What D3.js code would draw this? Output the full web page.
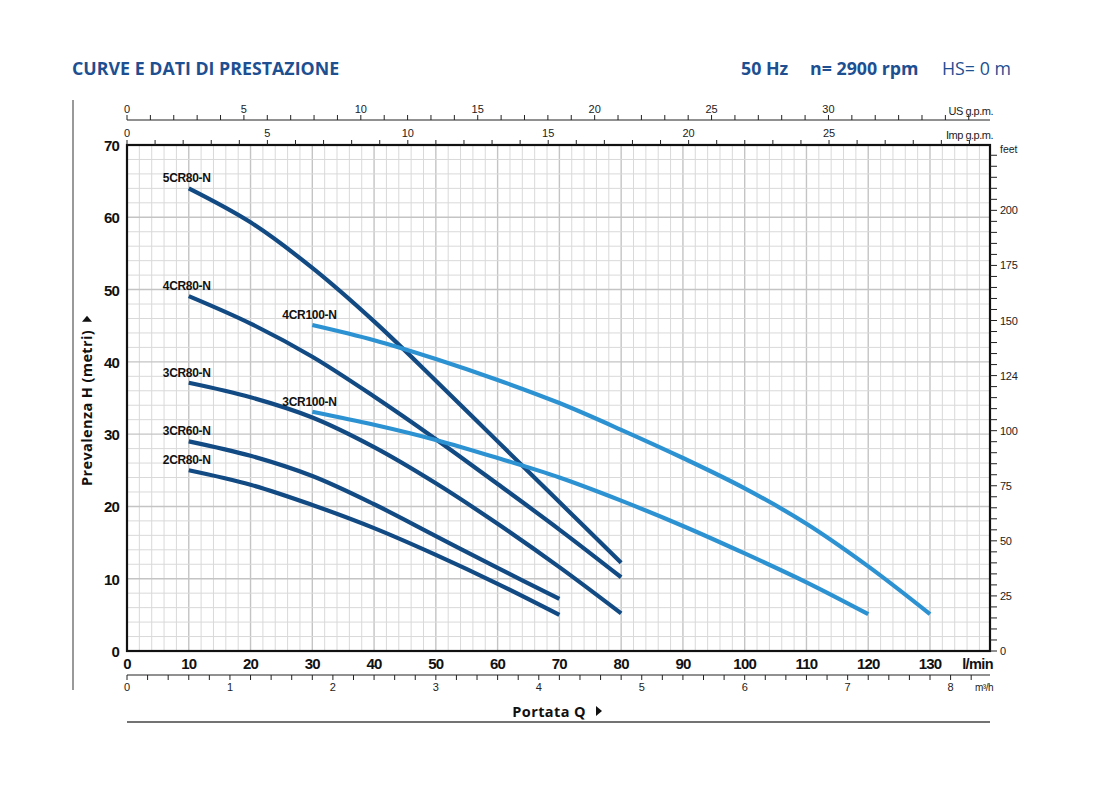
<!DOCTYPE html>
<html><head><meta charset="utf-8">
<script src="https://cdn.jsdelivr.net/npm/d3@7"></script>
<style>
body{margin:0;background:#fff;}
svg{display:block;}
</style></head>
<body>
<svg id="c" width="1100" height="800"></svg>
<script>
// ---------- DATA ----------
const flowTicks = [0,10,20,30,40,50,60,70,80,90,100,110,120,130];
const headTicks = [0,10,20,30,40,50,60,70];
const feetTickValues = [0,25,50,75,100,125,150,175,200];
const feetTickLabels = ["0","25","50","75","100","124","150","175","200"];
const usGpmLabels = [0,5,10,15,20,25,30];
const impGpmLabels = [0,5,10,15,20,25];
const m3hLabels = [0,1,2,3,4,5,6,7,8];

const pumpNames = ["5CR80-N","4CR80-N","3CR80-N","3CR60-N","2CR80-N","4CR100-N","3CR100-N"];
const q5CR80 = [10,20,30,40,50,60,70,80];
const h5CR80 = [64,59.3,53,45.6,37.4,29,20.6,12.2];
const q4CR80 = [10,20,30,40,50,60,70,80];
const h4CR80 = [49.1,45.3,40.7,35.2,29.3,23.1,16.8,10.2];
const q3CR80 = [10,20,30,40,50,60,70,80];
const h3CR80 = [37.1,35.1,32.3,28.2,23.2,17.6,11.6,5.2];
const q3CR60 = [10,20,30,40,50,60,70];
const h3CR60 = [29,27,24.2,20.3,15.9,11.5,7.2];
const q2CR80 = [10,20,30,40,50,60,70];
const h2CR80 = [25,23,20.2,17,13.3,9.3,5.0];
const q4CR100 = [30,40,50,60,70,80,90,100,110,120,130];
const h4CR100 = [45.1,43,40.4,37.5,34.3,30.6,26.7,22.5,17.6,11.7,5.1];
const q3CR100 = [30,40,50,60,70,80,90,100,110,120];
const h3CR100 = [33.1,31.3,29.2,26.7,24,20.8,17.3,13.5,9.5,5.1];

const seriesQ = [q5CR80,q4CR80,q3CR80,q3CR60,q2CR80,q4CR100,q3CR100];
const seriesH = [h5CR80,h4CR80,h3CR80,h3CR60,h2CR80,h4CR100,h3CR100];
const seriesKind = ["dark","dark","dark","dark","dark","light","light"];

// ---------- LAYOUT ----------
const svg = d3.select("#c");
const L = 127, R = 990, T = 145, B = 651;
const x = d3.scaleLinear().domain([0,130]).range([L, 930]);
const y = d3.scaleLinear().domain([0,70]).range([B, T]);
const qMax = x.invert(R);
const feet = d3.scaleLinear().domain([0, 70/0.3048]).range([B, T]);
const usG = d3.scaleLinear().domain([0,1]).range([x(0), x(3.78541)]);
const impG = d3.scaleLinear().domain([0,1]).range([x(0), x(4.54609)]);
const m3h = d3.scaleLinear().domain([0,1]).range([x(0), x(1000/60)]);

const navy = "#1d4f91";
const dark = "#124a84";
const light = "#2c92d2";
const sans = "'Liberation Sans', Arial, sans-serif";
const title = "'Open Sans', 'Noto Sans', sans-serif";

// titles
function ttl(xp, txt, w){
  svg.append("text").attr("x",xp).attr("y",75).attr("font-family",title).attr("font-weight",w)
    .attr("font-size",17.8).attr("fill",navy).attr("letter-spacing",0).text(txt);
}
ttl(72,"CURVE E DATI DI PRESTAZIONE",700);
ttl(741,"50 Hz",700);
ttl(810,"n= 2900 rpm",700);
ttl(942,"HS= 0 m",400);

// decorative left line
svg.append("line").attr("x1",73).attr("x2",73).attr("y1",100).attr("y2",690)
  .attr("stroke","#777").attr("stroke-width",1.5);

// grid
const g = svg.append("g");
const vGrid = d3.range(2, qMax, 2);
g.selectAll(".vg").data(vGrid).join("line")
  .attr("x1",d=>x(d)).attr("x2",d=>x(d)).attr("y1",T).attr("y2",B)
  .attr("stroke",d=>d%10===0?"#c4c4c4":"#d9d9d9").attr("stroke-width",d=>d%10===0?1.4:1);
const hGrid = d3.range(2, 70, 2);
g.selectAll(".hg").data(hGrid).join("line")
  .attr("x1",L).attr("x2",R).attr("y1",d=>y(d)).attr("y2",d=>y(d))
  .attr("stroke",d=>d%10===0?"#c4c4c4":"#d9d9d9").attr("stroke-width",d=>d%10===0?1.4:1);

// frame
svg.append("rect").attr("x",L).attr("y",T).attr("width",R-L).attr("height",B-T)
  .attr("fill","none").attr("stroke","#111").attr("stroke-width",2.2);

// left axis labels
svg.selectAll(".yl").data(headTicks).join("text")
  .attr("x",L-8).attr("y",d=>y(d)+6).attr("text-anchor","end")
  .attr("font-family",sans).attr("font-weight",700).attr("font-size",15).attr("letter-spacing",-0.8)
  .attr("fill","#111").text(d=>d);

// bottom l/min labels
svg.selectAll(".xl").data(flowTicks).join("text")
  .attr("x",d=>x(d)).attr("y",B+18).attr("text-anchor","middle")
  .attr("font-family",sans).attr("font-weight",700).attr("font-size",15).attr("letter-spacing",-0.8)
  .attr("fill","#111").text(d=>d);
svg.append("text").attr("x",993).attr("y",B+18).attr("text-anchor","end")
  .attr("font-family",sans).attr("font-weight",700).attr("font-size",14.5).attr("letter-spacing",-0.6)
  .attr("fill","#111").text("l/min");

// m3/h axis
const mY = 675;
svg.append("line").attr("x1",L).attr("x2",R).attr("y1",mY).attr("y2",mY).attr("stroke","#222").attr("stroke-width",1);
const mTicks = d3.range(0, m3h.invert(R), 0.2).map(v=>Math.round(v*10)/10);
svg.selectAll(".mt").data(mTicks).join("line")
  .attr("x1",d=>m3h(d)).attr("x2",d=>m3h(d)).attr("y1",mY).attr("y2",d=>mY+5)
  .attr("stroke","#222").attr("stroke-width",1);
svg.selectAll(".ml").data(m3hLabels).join("text")
  .attr("x",d=>m3h(d)).attr("y",mY+16).attr("text-anchor","middle")
  .attr("font-family",sans).attr("font-size",11).attr("fill","#222").text(d=>d);
svg.append("text").attr("x",993).attr("y",mY+16).attr("text-anchor","end")
  .attr("font-family",sans).attr("font-size",10).attr("letter-spacing",-0.5).attr("fill","#222").text("m³/h");

// Portata label
svg.append("text").attr("x",586).attr("y",717).attr("text-anchor","end")
  .attr("font-family",title).attr("font-weight",700).attr("font-size",14.5).attr("letter-spacing",0.4)
  .attr("fill","#111").text("Portata Q");
svg.append("path").attr("d","M596,706 L596,716 L602,711 Z").attr("fill","#111");
svg.append("line").attr("x1",L).attr("x2",R).attr("y1",722).attr("y2",722).attr("stroke","#444").attr("stroke-width",1.5);

// Y label
const yl = svg.append("g").attr("transform","translate(92,486) rotate(-90)");
const ylt = yl.append("text").attr("x",0).attr("y",0).attr("text-anchor","start")
  .attr("font-family",title).attr("font-weight",700).attr("font-size",14.5).attr("letter-spacing",0.4)
  .attr("fill","#111").text("Prevalenza H  (metri)");
const yw = ylt.node().getComputedTextLength();
yl.append("path").attr("d",`M${yw+8},-10 L${yw+8},0 L${yw+14},-5 Z`).attr("fill","#111");

// US gpm axis
const uY = 120;
svg.append("line").attr("x1",L).attr("x2",R).attr("y1",uY).attr("y2",uY).attr("stroke","#222").attr("stroke-width",1);
const uTicks = d3.range(0, usG.invert(R-5), 1);
svg.selectAll(".ut").data(uTicks).join("line")
  .attr("x1",d=>usG(d)).attr("x2",d=>usG(d)).attr("y1",uY).attr("y2",uY-5)
  .attr("stroke","#222").attr("stroke-width",1);
svg.selectAll(".ul").data(usGpmLabels).join("text")
  .attr("x",d=>usG(d)).attr("y",uY-7).attr("text-anchor","middle")
  .attr("font-family",sans).attr("font-size",11).attr("fill","#222").text(d=>d);
svg.append("text").attr("x",993).attr("y",uY-5).attr("text-anchor","end")
  .attr("font-family",sans).attr("font-size",11).attr("letter-spacing",-0.5).attr("fill","#222").text("US g.p.m.");

// Imp gpm axis (on top border)
const iTicks = d3.range(0, impG.invert(R-5), 1);
svg.selectAll(".it").data(iTicks).join("line")
  .attr("x1",d=>impG(d)).attr("x2",d=>impG(d)).attr("y1",T).attr("y2",T-5)
  .attr("stroke","#222").attr("stroke-width",1);
svg.selectAll(".il").data(impGpmLabels).join("text")
  .attr("x",d=>impG(d)).attr("y",T-8).attr("text-anchor","middle")
  .attr("font-family",sans).attr("font-size",11).attr("fill","#222").text(d=>d);
svg.append("text").attr("x",993).attr("y",T-6).attr("text-anchor","end")
  .attr("font-family",sans).attr("font-size",11).attr("letter-spacing",-0.5).attr("fill","#222").text("Imp g.p.m.");

// feet axis
const fTicks = d3.range(0, feet.domain()[1], 5);
svg.selectAll(".ft").data(fTicks).join("line")
  .attr("x1",R).attr("x2",R+7).attr("y1",d=>feet(d)).attr("y2",d=>feet(d))
  .attr("stroke","#222").attr("stroke-width",1);
svg.selectAll(".fl").data(feetTickValues).join("text")
  .attr("x",R+10).attr("y",d=>feet(d)+4)
  .attr("font-family",sans).attr("font-size",11).attr("letter-spacing",-0.3).attr("fill","#222")
  .text((d,i)=>feetTickLabels[i]);
svg.append("text").attr("x",R+10).attr("y",T+8)
  .attr("font-family",sans).attr("font-size",10.5).attr("fill","#222").text("feet");

// curves
const line = d3.line().x(d=>x(d[0])).y(d=>y(d[1])).curve(d3.curveCatmullRom.alpha(0.5));
seriesQ.forEach((qs,i)=>{
  const pts = qs.map((q,j)=>[q, seriesH[i][j]]);
  svg.append("path").attr("d",line(pts)).attr("fill","none")
    .attr("stroke", seriesKind[i]==="dark"?dark:light).attr("stroke-width",4.2)
    .attr("stroke-linecap","butt");
  const q0 = qs[0], h0 = seriesH[i][0];
  const dx = seriesKind[i]==="dark" ? -26 : -30;
  svg.append("text").attr("x",x(q0)+dx).attr("y",y(h0)-6)
    .attr("font-family",sans).attr("font-weight",700).attr("font-size",12).attr("letter-spacing",-0.3)
    .attr("fill","#111").text(pumpNames[i]);
});
</script>
</body></html>
